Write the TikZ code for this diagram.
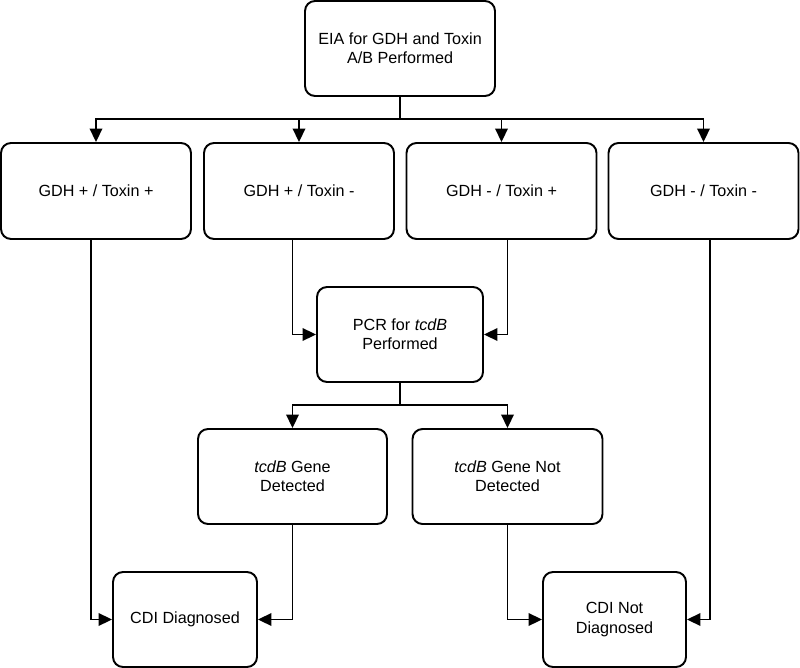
\documentclass[tikz,border=0pt]{standalone}
\usepackage{fontspec}
\setmainfont{Liberation Sans}
\usetikzlibrary{arrows.meta, positioning, calc}
\tikzset{box/.style = {
  rectangle, draw,
  line width=1.1pt, rounded corners=0.2cm,
  text centered, align=center,
  font=\fontsize{9.2}{11}\selectfont,
  inner sep=0pt
  }}
\tikzset{wide/.style = {box, minimum width=3.8cm, minimum height=1.9cm}}
\tikzset{link/.style = {
  line width=1.1pt,
  -{Triangle[length=0.27cm, width=0.25cm]}
  }}
\tikzset{trunk/.style = {line width=1.1pt}}

\begin{document}
\begin{tikzpicture}[x=0.02cm, y=-0.02cm]
\useasboundingbox (0,0) rectangle (800,668);

	% Test
	\node (eia) [wide] at (400,48.5) {EIA for GDH and Toxin\\A/B Performed};

	% EIA results
	\node (gpp) [wide, minimum height=1.92cm] at (96,191) {GDH + / Toxin +};
	\node (gpm) [wide, minimum height=1.92cm] at (299,191) {GDH + / Toxin -};
	\node (gmp) [wide, minimum height=1.92cm] at (501.5,191) {GDH - / Toxin +};
	\node (gmm) [wide, minimum height=1.92cm] at (703.5,191) {GDH - / Toxin -};

	% PCR
	\node (pcr) [box, minimum width=3.32cm, minimum height=1.9cm] at (400,334.5) {PCR for \textit{tcdB}\\Performed};
	\node (det) [wide, minimum width=3.78cm] at (292.5,476.5) {\textit{tcdB} Gene\\Detected};
	\node (ndet) [wide] at (507.5,476.5) {\textit{tcdB} Gene Not\\Detected};

	% Outcome
	\node (cdi) [box, minimum width=2.88cm, minimum height=1.9cm] at (185,619.5) {CDI Diagnosed};
	\node (ncdi) [box, minimum width=2.86cm, minimum height=1.9cm] at (614.5,619.5) {CDI Not\\Diagnosed};

	% Connectors
	\coordinate (split) at (400,119);
	\coordinate (fork) at (400,405);
	\draw [trunk] (eia.south) -- (split);
	\foreach \n in {gpp, gpm, gmp, gmm}
		\draw [link] (split) -| (\n.north);
	\draw [link] (gpm.south -| det.north) |- (pcr.west);
	\draw [link] (gmp.south -| ndet.north) |- (pcr.east);
	\draw [trunk] (pcr.south) -- (fork);
	\draw [link] (fork) -| (det.north);
	\draw [link] (fork) -| (ndet.north);
	\draw [link] ($(gpp.south)+(-5,0)$) |- (cdi.west);
	\draw [link] (det.south) |- (cdi.east);
	\draw [link] (ndet.south) |- (ncdi.west);
	\draw [link] ($(gmm.south)+(6.5,0)$) |- (ncdi.east);

\end{tikzpicture}
\end{document}
